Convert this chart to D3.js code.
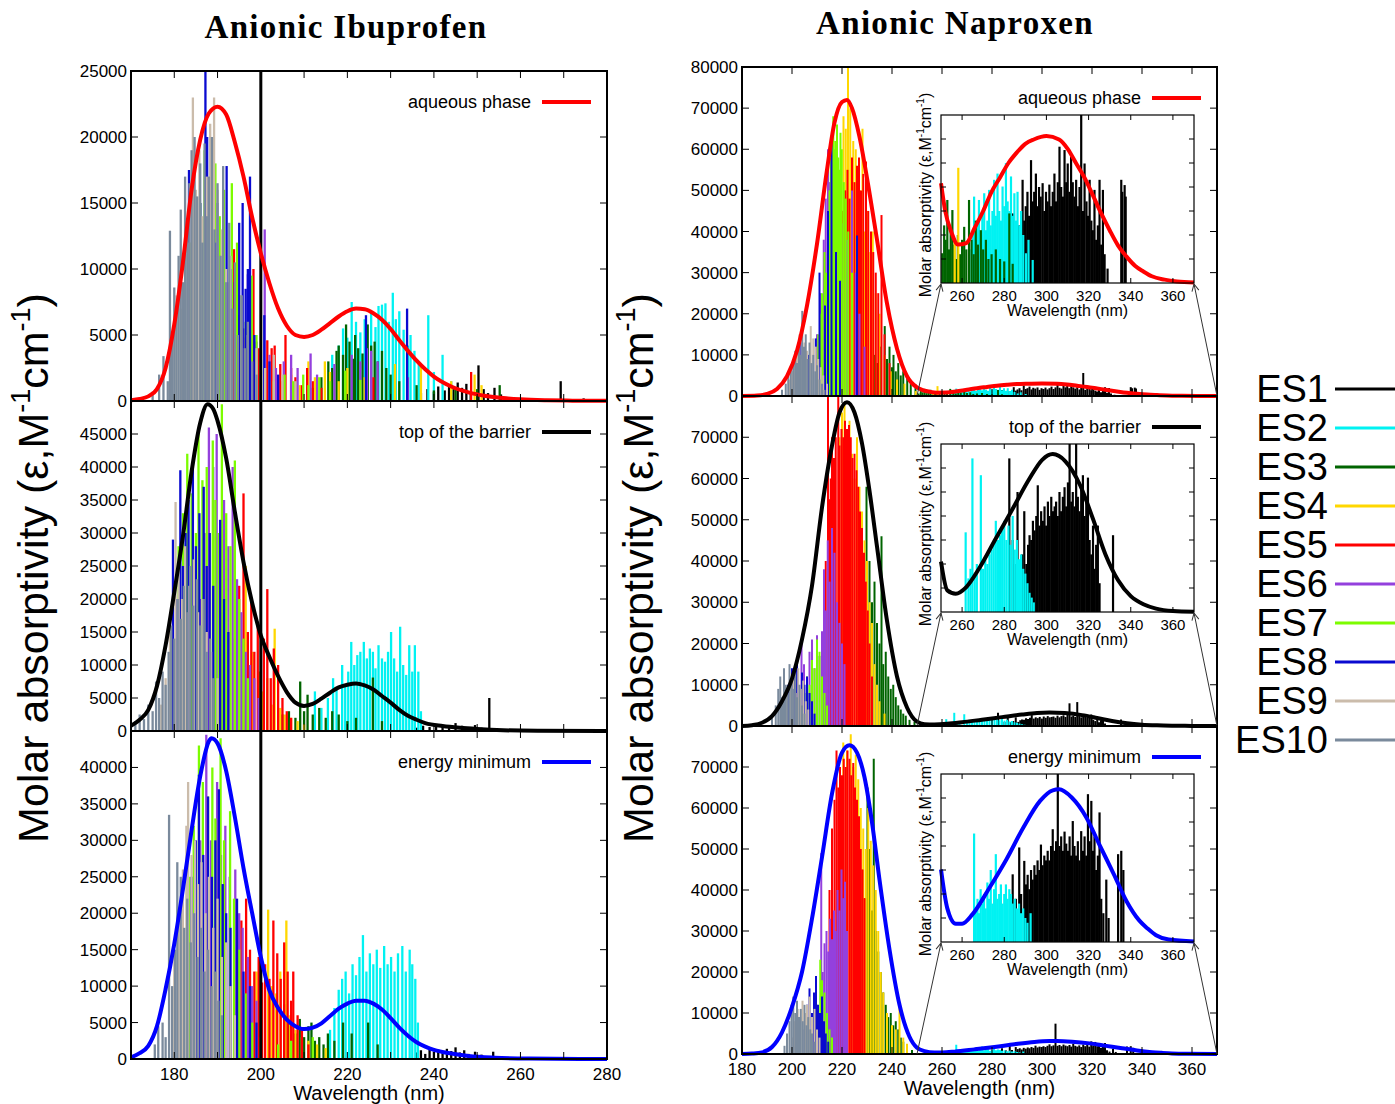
<!DOCTYPE html>
<html>
<head>
<meta charset="utf-8">
<script src="https://cdn.jsdelivr.net/npm/d3@7"></script>
<style>
body { margin: 0; background: #fff; }
svg { display: block; }
text { font-family: "Liberation Sans", Arial, sans-serif; fill: #000; }
</style>
</head>
<body>
<div id="chart"></div>
<script>
const width = 1395
const height = 1104

const esNames = ['ES1', 'ES2', 'ES3', 'ES4', 'ES5', 'ES6', 'ES7', 'ES8', 'ES9', 'ES10']
const esColors = ['#000000', '#00f2f2', '#006400', '#ffd700', '#ff0000', '#9440dd', '#7cfc00', '#0a0ad0', '#cbbcab', '#7a8a9c']
const stateNames = ['aqueous phase', 'top of the barrier', 'energy minimum']
const stateColors = ['#ff0000', '#000000', '#0000ff']

const ibuXTicks = [170, 180, 190, 200, 210, 220, 230, 240, 250, 260, 270, 280]
const ibuXLabels = [180, 200, 220, 240, 260, 280]
const napXTicks = [180, 200, 220, 240, 260, 280, 300, 320, 340, 360]
const insetXTicks = [260, 280, 300, 320, 340, 360]

// broadened spectra (wavelength nm, epsilon)
const ibuAqCurve = [[170,50],[172,150],[174,350],[176,900],[178,2500],[180,5800],[182,10500],[184,16000],[186,19800],[188,21800],[190,22300],[192,21700],[194,19600],[196,17000],[198,13900],[200,11200],[202,8900],[204,7000],[206,5700],[208,5000],[210,4850],[212,5000],[214,5400],[216,5900],[218,6400],[220,6800],[222,7000],[224,6950],[226,6650],[228,6150],[230,5450],[232,4600],[234,3800],[236,3050],[238,2400],[240,1850],[244,1100],[248,650],[252,380],[256,220],[260,130],[266,60],[272,25],[280,10]]
const ibuTsCurve = [[170,800],[172,1700],[174,3200],[176,6800],[178,13000],[180,21000],[182,29500],[184,39300],[186,46700],[187.7,49500],[189,48800],[190,47000],[192,41300],[194,33200],[196,25600],[198,19400],[200,14500],[202,11200],[204,8300],[206,5900],[208,4300],[210,3800],[212,4100],[214,4900],[216,5800],[218,6600],[220,7000],[222,7200],[224,6900],[226,6300],[228,5300],[230,4300],[232,3200],[234,2300],[236,1700],[238,1200],[242,750],[246,480],[250,300],[256,120],[264,40],[280,0]]
const ibuMinCurve = [[170,230],[172,800],[174,1800],[176,4500],[178,9600],[180,15800],[182,23300],[184,31400],[186,38800],[188,43600],[188.6,44000],[190,43300],[192,39500],[194,33200],[196,26200],[198,20000],[200,14000],[202,9400],[204,7000],[206,5400],[208,4500],[210,4100],[212,4300],[214,4900],[216,5900],[218,6900],[220,7600],[222,8000],[224,8000],[226,7600],[228,6800],[230,5600],[232,4300],[234,3200],[236,2300],[238,1700],[240,1250],[244,750],[248,420],[254,180],[262,60],[280,0]]
const napAqCurve = [[180,0],[186,100],[190,500],[194,1700],[198,4800],[202,11000],[206,22000],[210,37000],[214,55000],[217,66500],[220,71500],[222,72000],[224,70000],[227,63000],[230,53000],[234,38000],[238,22500],[242,11500],[246,4800],[250,2080],[252,1500],[255,1050],[258,800],[262,830],[266,1150],[270,1500],[274,1900],[278,2200],[282,2500],[286,2720],[290,2900],[294,2990],[300,3060],[306,2990],[310,2800],[314,2500],[318,2200],[322,1830],[326,1450],[330,1100],[334,780],[338,550],[342,360],[346,240],[350,140],[356,70],[362,30],[370,10]]
const napTsCurve = [[180,0],[184,200],[188,800],[192,2400],[196,6000],[200,11500],[204,21000],[208,34000],[212,53000],[216,68000],[219,76000],[222,78500],[225,76000],[228,68500],[231,57000],[234,43500],[238,25500],[242,12000],[246,4500],[250,1050],[253,450],[257,380],[262,520],[268,900],[276,1530],[284,2150],[292,2780],[298,3170],[303,3290],[309,3140],[316,2640],[322,1950],[328,1200],[334,660],[340,330],[346,160],[352,70],[360,20],[370,5]]
const napMinCurve = [[180,0],[184,100],[188,400],[192,1700],[196,5300],[200,11500],[204,20000],[208,33000],[212,48000],[216,63500],[220,73500],[223,75300],[226,73500],[229,67500],[232,56500],[235,42500],[239,25500],[243,12000],[247,4200],[250,1510],[253,700],[257,380],[260,380],[265,580],[273,1130],[281,1720],[289,2380],[297,2940],[303,3160],[306,3180],[312,3010],[319,2590],[325,2040],[332,1410],[338,850],[344,450],[348,280],[352,140],[358,50],[370,10]]

// stick spectra, one list per excited state ES1..ES10 (wavelength nm, epsilon)
const ibuAqSticks = [
  [[237,600],[238.5,900],[240,700],[241,1100],[242.5,800],[243.5,1200],[244.5,900],[245.5,1400],[246.5,1000],[247.5,1300],[248.5,700],[250.3,2700],[251.5,900],[252.5,600],[254,1000],[255.5,500],[257,300],[269.3,1500],[274.6,200]],
  [[216.5,3500],[218,4200],[219,5500],[220,4800],[221,7500],[222,6000],[223,5200],[224,6200],[225.5,6800],[226.5,5600],[227.2,7200],[228,7300],[228.8,7400],[229.6,6000],[230.5,8200],[231.2,6200],[232,6800],[233,5400],[234,4200],[234.6,5000],[235.5,3800],[236.5,3000],[238.7,6500],[240,2200],[242,3500],[244,1500]],
  [[212,1000],[214,1800],[215.6,3000],[216.5,2500],[217.5,3800],[218,4200],[219,3500],[219.7,5800],[220.5,4500],[221.3,3200],[221.8,5000],[222.5,4000],[223.5,3600],[224.7,5800],[225.5,4200],[226.3,4500],[227,3000],[228,3800],[229,2500],[230,2000],[232,1500],[236,1200],[240,800],[245,1000],[250,900],[255.2,1200]],
  [[205,1500],[207,2000],[209,1200],[211,3000],[212.5,1800],[214.8,3000],[216,2200],[218,1500],[220,2500],[224,1800],[231,2800],[237,2700],[244,1500],[249.4,2000],[251,1200]],
  [[193.8,11500],[195,6500],[196.5,4800],[198.3,10000],[199.5,4000],[201.5,4600],[202.5,4000],[203.2,4200],[204.5,2800],[205.7,5000],[207,2500],[208,1800],[209.5,1200],[210.7,2500],[212,1500],[214,1000],[226,1800],[248.6,2200]],
  [[190.5,8500],[192.5,9000],[194.5,6500],[196,5500],[197,9600],[199,4500],[200.9,13000],[202,3500],[203.5,2500],[205.3,3000],[207,3500],[208.5,2500],[211.5,3600],[213,2000],[217,2800],[221,3500],[223,3000],[224.5,4000],[225.5,3800],[227,3000],[234,1800]],
  [[184,12000],[186,15000],[187,19000],[188.4,20000],[189.5,18000],[190.5,14000],[191.5,16000],[193.3,16500],[194.5,12000],[195.5,8000],[196.5,6000],[197.9,9500],[199,5000],[200,3000],[203,1500],[205.5,2000],[207.5,1500],[209.8,2000],[211,1200],[213.5,1800],[216,1500],[219.5,2300],[223,1600]],
  [[183.4,17500],[185,13000],[186,15000],[187.2,25000],[187.6,20000],[188.5,14000],[189.5,12000],[190,15000],[191,11000],[192.1,17800],[193,10000],[194,9000],[195,13500],[195.8,15000],[196.5,8500],[197,10000],[197.5,17000],[198.5,5000],[200.8,6500],[202,3000],[204,2000],[224.3,6500],[233.8,7000]],
  [[179.5,5000],[180.5,8000],[181.5,7000],[182.5,9000],[183.5,12000],[184.3,23000],[185,16000],[185.8,19000],[186.5,14000],[187.5,17000],[188.3,21000],[189.2,23000],[190,16000],[191,13000],[192,10000],[193,11000],[194,7000],[195.5,8000],[197,5000],[199,4000],[201,2500],[203,3500],[205,2000],[208,1500]],
  [[175,700],[176.5,2000],[177.5,3400],[178.5,1500],[179,12900],[179.5,5000],[180,8600],[180.5,6500],[181,11000],[181.5,14500],[182,9000],[182.5,17000],[183,13000],[183.5,16500],[184,19000],[184.7,20000],[185.3,15500],[186,18000],[186.5,12000],[187,19500],[187.5,14000],[188,17000],[188.7,20000],[189.3,13000],[190,16500],[190.7,11000],[191.3,17800],[192,9000],[192.7,13500],[193.3,7000],[194,10500],[194.7,5000],[195.5,8000],[196.3,4000],[197,6000],[198,3000],[199,2000],[200,1200]]
]
const ibuTsSticks = [
  [[236,500],[237.5,800],[239,600],[240.5,1000],[242,700],[243.5,900],[245,1200],[246.5,800],[248,600],[249.5,900],[251,500],[252.8,5000],[255,300]],
  [[212.5,6000],[214,3500],[215.5,5000],[216.7,8000],[217.5,6500],[218.8,10000],[219.5,7000],[220.2,9000],[220.9,13500],[221.6,10000],[222.3,11500],[223,12000],[223.8,13500],[224.5,11000],[225.2,12500],[225.9,12000],[226.5,9500],[227.2,13000],[228,11000],[228.7,10500],[229.4,12000],[230.1,15000],[230.8,11000],[231.5,9000],[232.2,15800],[232.9,10000],[233.6,8500],[234.3,13000],[235,9000],[235.6,13000],[236.4,9000],[237,3000]],
  [[205,2500],[206.5,3000],[208,2000],[209.1,7500],[210,3000],[210.8,5500],[212,2500],[213.5,3500],[215,2000],[216.5,3000],[218,2500],[220,1500],[222,2000],[225.9,8100],[228,1500]],
  [[196.5,25000],[198,12000],[199.5,9000],[200.5,6000],[201.5,8000],[202.5,4000],[203.2,15500],[204.5,3500],[205.5,2500],[207,2000],[208.5,1500],[210,1000]],
  [[194,14000],[195,22000],[196,36000],[197,15000],[197.8,20000],[198.5,12000],[199.3,16000],[200,9000],[200.7,14000],[201.5,21500],[202.3,8000],[203,12500],[204,10000],[205,5000],[206,3000],[207,2000]],
  [[186,20000],[187,30000],[188,46000],[189,40000],[189.8,45000],[190.5,25000],[191.5,35000],[192.5,28000],[193.5,40000],[194.5,23000],[195.5,18000],[196.5,12000],[197.5,10000],[198.5,8000],[199.5,5000]],
  [[181,28000],[182,33000],[183,42000],[184,36000],[185,30000],[185.6,45000],[186.5,38000],[187.5,40000],[188.9,44000],[189.5,35000],[190.3,30000],[191,49500],[192,33000],[193,28000],[194,41000],[195,20000],[196,14000],[197,8000]],
  [[179.7,29000],[180.5,20000],[181.4,39500],[182,25000],[182.6,30000],[183.3,35000],[184.3,40000],[185,28000],[185.8,33000],[186.8,37000],[187.5,25000],[188.2,30000],[189,22000],[190.6,32000],[191.5,20000],[192.5,15000]],
  [[177,4000],[178,8000],[179,15000],[180.3,34700],[181,25000],[181.8,20000],[182.5,28000],[183.5,22000],[184.5,26000],[185.5,18000],[186.5,20000],[187.5,15000],[188.5,12000],[190,8000]],
  [[171,1500],[172,2500],[173,1800],[174,4000],[175,3000],[175.8,7500],[176.5,5000],[177.3,9000],[178,7000],[178.7,12000],[179.3,16000],[180,14000],[180.8,20000],[181.5,17000],[182.2,22000],[183,18000],[183.7,25000],[184.4,19000],[185.2,23000],[186,16000],[186.8,20000],[187.5,12000],[188.3,14000],[189,8000]]
]
const ibuMinSticks = [
  [[236,900],[237,1200],[238,700],[239,1500],[240,1000],[241,1300],[242,800],[243,1400],[244,1100],[245,1600],[246,900],[247,1200],[248,700],[249.5,1000],[251,600],[253.7,1000],[256,200]],
  [[216,4000],[217,7000],[218,9500],[218.8,11000],[219.6,12000],[220.4,9000],[221.2,13000],[222,11500],[222.8,14000],[223.6,17000],[224.4,12000],[225.2,14500],[226,13000],[226.8,15000],[227.6,12500],[228.5,15500],[229.3,13000],[230.1,14000],[230.9,12000],[231.7,14500],[232.7,15500],[233.5,12000],[234.4,15000],[235,13000],[235.7,11000],[236.3,5000]],
  [[205.4,7500],[206.5,5000],[208,3500],[209,5500],[210,3000],[211,4500],[211.7,5000],[212.5,2500],[213.5,3000],[214.5,2000],[215.5,3500],[217,2500],[219,5000],[221,3500],[224.8,5000],[227,2000]],
  [[199,12000],[200,8000],[201.7,20500],[202.5,10000],[203.5,9000],[204.5,12000],[205.9,19000],[206.8,6000],[208,4000],[209.5,3000],[211,2500],[213,2000],[215,1500]],
  [[194.5,16000],[195.5,19000],[196.6,22000],[197.5,15000],[198.5,12000],[199.5,14000],[200.3,10500],[201,13000],[202,11000],[202.9,19000],[203.8,14500],[204.6,11000],[205.4,16000],[206.2,12000],[207,8000],[207.5,12000],[208.5,6000],[209.5,4000],[211,2000]],
  [[186,30000],[187.4,44500],[188.5,30000],[189.9,38000],[190.8,28000],[191.8,32000],[192.8,25000],[194.1,26000],[195,20000],[195.8,18000],[197,14000],[198,10000],[199,8000]],
  [[183.5,25000],[184.5,32000],[185.7,43000],[186.6,38000],[187.8,36000],[188.8,40000],[189.5,33000],[190.7,44000],[191.5,30000],[192.9,34000],[193.8,22000],[195,15000],[196.5,9000],[198,5000],[200,3000],[204,2000],[207,2500],[212,3000]],
  [[184,25000],[185,30000],[185.7,39000],[186.7,28000],[187.8,36000],[188.7,25000],[189.5,30000],[190.3,37000],[191.2,24000],[192,20000],[193,18000],[194.5,22000],[196,12000],[197.5,10000],[199,5000]],
  [[180,15000],[181,20000],[182,26000],[182.8,32000],[183.2,38000],[184,28000],[184.8,30000],[185.5,24000],[186.3,27000],[187.2,20000],[188,25000],[189,18000],[190,22000],[191,14000],[192,16000],[193,10000],[194,6000]],
  [[175.5,2000],[176.3,4500],[177.3,5000],[178,3000],[178.8,33500],[179.5,10000],[180.2,15000],[180.7,27000],[181.5,25000],[182.3,18000],[183,22000],[183.8,16000],[184.6,20000],[185.4,14000],[186.2,18000],[187,12000],[187.8,15000],[188.6,10000],[189.4,12000],[190.2,8000],[191,6000]]
]
const napAqSticks = [
  [[284,1450],[285.5,800],[287,1200],[288,1000],[288.7,2150],[289.5,1300],[290.2,1600],[291,1900],[291.8,1400],[292.7,2560],[293.5,1700],[294.2,1900],[295,2280],[295.8,1600],[296.5,2000],[297.3,1800],[298.2,2080],[299,1500],[299.8,1900],[300.6,1700],[301.4,2050],[302.2,1600],[303,1900],[303.8,2280],[304.6,1700],[305.4,2100],[306.2,2840],[307,2000],[307.8,1800],[308.6,2770],[309.4,2100],[310.1,2490],[310.9,1900],[311.7,2630],[312.5,2100],[313.3,1800],[314.1,2150],[315,1600],[315.7,2000],[316.5,5600],[317.3,1500],[318.1,2490],[319,1700],[319.7,1400],[320.5,2150],[321.3,1300],[322,1100],[322.8,1940],[323.6,900],[324.4,1200],[325.2,2150],[326,800],[326.8,1940],[327.6,600],[329,300],[335.5,2150],[336,1900],[337.1,2040],[337.6,1800]],
  [[263.5,700],[265,1000],[265.7,1800],[266.5,900],[267.3,1200],[268,1730],[268.8,1000],[269.6,1400],[270.5,1870],[271.3,1100],[272,1300],[272.8,1940],[273.6,1200],[274.4,1500],[275.2,2150],[276,1400],[276.8,2280],[277.6,1500],[278.4,1300],[279.2,2010],[280,1600],[280.8,2500],[281.6,1700],[282.4,1500],[283.2,2220],[284,1400],[284.8,1870],[285.6,1300],[286.3,1900],[287.2,1200],[288,1500],[289,1000],[290.3,620],[291.5,900],[293.5,480]],
  [[233,10000],[234,8000],[235.5,12000],[237.1,17000],[238,9000],[239,12000],[240,7000],[240.6,10000],[241.5,6000],[242.5,8000],[243.5,5000],[244.5,6000],[246.1,5000],[247.5,3000],[249.4,2800],[250.6,620],[251.5,1200],[252.2,900],[253,1730],[253.8,700],[254.6,1100],[255.4,1520],[256.3,800],[257.2,500],[258,1000],[259,600],[260,900],[261,1170],[262,700],[263.3,1730],[264.5,900],[265.5,600],[266.5,1300],[267.5,800],[268.9,1100],[270,700],[271.3,900],[272.5,500],[274,600],[276,700],[278,500],[280,450],[282.4,1450],[284,400]],
  [[220.6,68000],[221.5,65000],[222.4,80000],[223.3,70000],[224.5,62000],[225.5,60000],[226.5,55000],[227.3,50000],[228.2,65000],[229.2,40000],[230.2,45000],[231.3,35000],[232.3,40000],[233.5,25000],[235,20000],[237,10000],[239.5,6000],[242,4000],[245,3000],[249.5,1200],[256.5,900],[258.2,2400]],
  [[219,35000],[220.2,45000],[221.3,50000],[222.2,55000],[223,48000],[224,58000],[225,52000],[226,56000],[226.8,58000],[227.6,50000],[228.5,54000],[229.6,57000],[230.5,45000],[231.6,40000],[232.5,35000],[233.5,30000],[234.5,25000],[235.8,44000],[237,15000],[239,8000]],
  [[210,15000],[211.5,25000],[212.7,38000],[213.5,48000],[214.4,60000],[215,52000],[216,45000],[217.9,55000],[219,48000],[220.5,42000],[222,38000],[224,50000],[225.5,30000],[227,20000],[229,12000]],
  [[210.5,15000],[211.3,20000],[212,25000],[213,35000],[213.7,30000],[214.4,40000],[215,50000],[215.5,58000],[216,62000],[216.5,68000],[217,60000],[217.3,62000],[218,66000],[218.5,58000],[218.8,55000],[219.4,64000],[219.9,60000],[220.7,52000],[221.5,48000],[222.5,40000],[224,30000]],
  [[203.4,13000],[206.5,10000],[209.5,14000],[211,30000],[213.2,22000],[214.4,45000],[215.8,62000],[217.6,35000],[219.2,28000],[226,39000]],
  [[199,4000],[200,6000],[201,9000],[202,12000],[203,15000],[204,9000],[205,13000],[206,11000],[207.5,17000],[208.5,14000],[209.5,12000],[210.5,9000],[211.5,7000],[212.5,5000],[214,3000]],
  [[196,1500],[197.5,3000],[198.5,5000],[199.5,7000],[200.5,9000],[201.3,11000],[202,8000],[202.8,13000],[203.5,10000],[204.1,20700],[204.8,12000],[205.5,15000],[206.2,9000],[207,13000],[207.8,8000],[208.5,10000],[209.3,6000],[210,7500],[211,4000],[212,3000],[213,1500]]
]
const napTsSticks = [
  [[282.4,3200],[284,1500],[285,1000],[286.3,2500],[287.5,900],[288.5,1200],[289.5,2100],[290.5,1000],[291.3,1400],[292,1600],[292.8,1500],[293.6,1900],[294.4,1700],[295.2,2000],[295.9,2640],[296.7,1800],[297.5,2100],[298.3,1900],[299.1,2200],[299.9,1800],[300.7,2300],[301.5,2000],[302.3,2400],[303.1,2100],[303.9,2200],[304.6,2300],[305.4,2000],[306.2,2500],[307,2100],[307.8,2400],[308.6,2600],[309.4,2200],[310.2,2700],[311,5500],[311.8,2300],[312.5,2500],[313.3,2200],[314.1,5800],[314.9,2400],[315.7,2100],[316.5,2600],[317.3,2850],[318.1,2000],[318.9,2300],[319.7,2800],[320.5,1500],[321.3,1200],[322.1,1800],[322.8,900],[323.6,1400],[324.4,1800],[325.2,600],[331.6,1600]],
  [[261.7,1660],[263,700],[264,900],[264.9,3200],[266,800],[267,1000],[268.9,2850],[270,900],[271,1100],[272,1000],[273,1200],[274,1300],[275,1400],[276,1900],[277,1500],[278,1600],[279,1700],[280,1900],[281,1500],[282,1800],[283,1400],[284,2000],[285,1300],[286,1500],[287,1100],[288,1200],[289,900],[290,800],[291,600],[292,400],[293,300],[294,200]],
  [[229,30000],[229.8,58000],[231,40000],[232,30000],[233,35000],[234,25000],[235,20000],[235.8,46000],[236.5,15000],[237.5,18000],[238.5,12000],[239.5,9000],[240.5,10000],[241.5,7000],[242.5,5000],[243.5,4000],[244.5,3000],[245.5,2500],[247,1500],[249,1000]],
  [[219,70000],[220,76000],[221,78000],[221.8,72000],[223,74000],[224,66000],[225,60000],[226,70000],[227,58000],[228,52000],[229,45000],[230,40000],[231,30000],[232,25000],[233,15000],[234,10000],[235,6000],[237,3000]],
  [[213.5,40000],[214.4,80000],[214.8,55000],[215.5,60000],[216,70000],[216.8,65000],[217.5,70000],[218.5,80000],[219,68000],[219.8,72000],[220.5,70000],[221.2,74000],[222,72000],[222.8,73000],[223.5,70000],[224.2,65000],[225,66000],[225.8,62000],[226.5,58000],[227.2,52000],[228,48000],[228.8,42000],[229.5,35000],[230.3,28000],[231,20000],[232,12000]],
  [[202.5,5000],[203.8,20000],[204.8,15000],[206,10000],[207,18000],[208,21000],[209,14000],[210,22000],[211,17000],[212,23000],[212.8,38000],[213.5,28000],[214.3,45000],[215,35000],[216,48000],[217,42000],[218,30000],[219,25000],[220,20000],[221,15000]],
  [[205,8000],[206,12000],[207,10000],[208,16000],[209,14000],[210,21000],[211,18000],[212,12000],[213,8000],[214,5000]],
  [[198.5,10000],[200,14000],[201,12000],[202,15000],[203,8000],[204,13000],[205,10000],[206,12000],[207,8000],[208,6000],[209,3000]],
  [[196,3000],[197,6000],[198,8000],[199.5,10000],[200.5,12000],[201.5,8000],[202.5,14000],[203.5,9000],[204.5,11000],[205.5,6000],[206.5,4000]],
  [[192,2000],[193.5,5000],[194.5,9000],[195.3,12000],[196,7000],[196.8,14000],[197.5,10000],[198.3,8000],[199,15000],[199.8,11000],[200.5,9000],[201.3,13000],[202,7000],[203,10000],[204,5000],[205,3000]]
]
const napMinSticks = [
  [[284,1410],[285.5,900],[287.1,1970],[288,1000],[289.5,1690],[290.3,1200],[291.1,1400],[291.9,1100],[292.7,1500],[293.5,1300],[294.3,1600],[295,1400],[295.8,1700],[296.6,1500],[297.4,2030],[298.2,1600],[299,1800],[299.8,1700],[300.6,1900],[301.4,1700],[302.2,2000],[303,2350],[303.8,1900],[304.6,2100],[305.4,7400],[306.2,2000],[307,2200],[307.8,1900],[308.6,2300],[309.4,2050],[310.2,1900],[311,2200],[311.7,1800],[312.5,2520],[313.3,2000],[314.1,1800],[314.9,2100],[315.7,1700],[316.5,2310],[317.3,1900],[318.1,2200],[318.9,1800],[319.7,3080],[320.5,2100],[321.3,2940],[322.1,1900],[322.8,2200],[323.6,1500],[324.4,1800],[325.2,2700],[326,900],[327,600],[328.4,1300],[329.5,500],[334,1830],[335.5,1900],[336.5,1500]],
  [[265.7,2260],[266.5,700],[267.3,900],[268,600],[268.8,1100],[269.6,800],[270.4,1000],[271.2,700],[272,1240],[272.8,900],[273.6,1500],[274.4,800],[275.2,1100],[276,1830],[276.8,900],[277.6,1000],[278.4,1200],[279.2,800],[280,1000],[280.8,1200],[281.6,900],[282.4,1100],[283.2,1000],[284,800],[285,900],[286,700],[287,800],[288,600],[289,700],[290,500],[291,400],[292.5,600]],
  [[227,35000],[228,45000],[229,38000],[230.2,65000],[231,50000],[232,35000],[232.7,72000],[233.5,30000],[234.5,25000],[235.5,20000],[236.5,15000],[237.5,12000],[238.5,9000],[239.5,10000],[240.5,7000],[241.5,8000],[242.5,6000],[243.5,4000],[244.5,3000],[246,2000],[248,1000]],
  [[220.5,76000],[222,74000],[223.5,78000],[224.5,70000],[225.5,73000],[226.5,67000],[227.5,60000],[228.5,55000],[229.5,50000],[230.5,60000],[231.5,52000],[232.5,46000],[233.5,40000],[234.5,30000],[235.5,20000],[236.5,15000],[238,10000],[240,7000],[241.5,6000],[243,12000],[244.5,4000],[246,2500]],
  [[215,40000],[216,55000],[217,62000],[217.8,74000],[218.5,65000],[219.2,70000],[220,68000],[220.7,72000],[221.5,70000],[222.2,74000],[223,72000],[223.7,68000],[224.5,71000],[225.2,65000],[226,62000],[226.8,58000],[227.5,50000],[228.2,45000],[229,38000]],
  [[211.7,49000],[212.3,20000],[213,27000],[213.8,30000],[214.5,25000],[215.2,33000],[216,28000],[216.8,35000],[217.5,30000],[218.2,40000],[219,35000],[219.8,45000],[220.5,38000],[221.2,42000],[222,30000]],
  [[209,8000],[210,12000],[211.3,23000],[212,18000],[213,15000],[214,10000],[215,6000],[216,4000]],
  [[205,6000],[206,12000],[207,16000],[208,10000],[208.8,15000],[209.6,19000],[210.4,12000],[211.2,10000],[212,14000],[212.8,8000],[213.5,5000],[214.5,3000]],
  [[200,4000],[201,8000],[202.3,11000],[203.3,9000],[204.2,13000],[205.2,10000],[206,12000],[207,14000],[208,9000],[209,11000],[210,6000],[211,4000]],
  [[197,2000],[198,5000],[199,8000],[199.8,12000],[200.5,14000],[201.3,10000],[202,13000],[202.8,9000],[203.5,11000],[204.3,8000],[205,12000],[205.8,7000],[206.5,9000],[207.3,6000],[208,5000],[209,3000]]
]

const svg = d3.select('#chart').append('svg')
  .attr('width', width)
  .attr('height', height)
  .style('background', '#fff')

const defs = svg.append('defs')
defs.append('marker')
  .attr('id', 'arrowhead')
  .attr('viewBox', '-8 -5 10 10')
  .attr('refX', 0).attr('refY', 0)
  .attr('markerWidth', 10).attr('markerHeight', 10)
  .attr('markerUnits', 'userSpaceOnUse')
  .attr('orient', 'auto')
  .append('path')
  .attr('d', 'M-7,-3.5 L0,0 L-7,3.5')
  .attr('fill', 'none')
  .attr('stroke', '#333')
  .attr('stroke-width', 1)

let clipCount = 0
function addClip (x0, y0, w, h) {
  const id = 'clip' + (clipCount++)
  defs.append('clipPath').attr('id', id)
    .append('rect').attr('x', x0).attr('y', y0).attr('width', w).attr('height', h)
  return `url(#${id})`
}

function flatSticks (sticks) {
  // ES1 first so that higher states are drawn over it
  const out = []
  sticks.forEach((list, i) => list.forEach(d => out.push({ es: i, wl: d[0], eps: d[1] })))
  return out
}

function drawFrame (g, x0, y0, x1, y1, w) {
  g.append('rect')
    .attr('x', x0).attr('y', y0)
    .attr('width', x1 - x0).attr('height', y1 - y0)
    .attr('fill', 'none').attr('stroke', '#000').attr('stroke-width', w)
}

function drawPanel (cfg) {
  const g = svg.append('g')
  const x = d3.scaleLinear().domain(cfg.xDomain).range([cfg.left, cfg.right])
  const y = d3.scaleLinear().domain([0, cfg.yMax]).range([cfg.bottom, cfg.top])

  const stickClip = addClip(cfg.left, cfg.top, cfg.right - cfg.left, cfg.bottom - cfg.top)
  g.append('g').attr('clip-path', stickClip)
    .selectAll('line').data(flatSticks(cfg.sticks)).join('line')
    .attr('x1', d => x(d.wl)).attr('x2', d => x(d.wl))
    .attr('y1', y(0)).attr('y2', d => y(d.eps))
    .attr('stroke', d => esColors[d.es])
    .attr('stroke-width', cfg.stickWidth)

  if (cfg.marker !== undefined) {
    g.append('line')
      .attr('x1', x(cfg.marker)).attr('x2', x(cfg.marker))
      .attr('y1', cfg.top).attr('y2', cfg.bottom)
      .attr('stroke', '#000').attr('stroke-width', 3)
  }

  const curveClip = addClip(cfg.left, cfg.top, cfg.right - cfg.left, cfg.bottom - cfg.top + 3)
  g.append('path')
    .datum(cfg.curve)
    .attr('clip-path', curveClip)
    .attr('d', d3.line().x(d => x(d[0])).y(d => y(d[1])).curve(d3.curveMonotoneX))
    .attr('fill', 'none')
    .attr('stroke', cfg.color)
    .attr('stroke-width', 4)
    .attr('stroke-linejoin', 'round')

  drawFrame(g, cfg.left, cfg.top, cfg.right, cfg.bottom, 2)

  // inward ticks on all four sides
  const tk = 7
  g.append('g').selectAll('path').data(cfg.xTicks).join('path')
    .attr('d', d => `M${x(d)},${cfg.bottom}v${-tk}M${x(d)},${cfg.top}v${tk}`)
    .attr('stroke', '#000').attr('stroke-width', 1)
  const yTicks = d3.range(0, cfg.yMax + 1, cfg.yStep)
  g.append('g').selectAll('path').data(yTicks).join('path')
    .attr('d', d => `M${cfg.left},${y(d)}h${tk}M${cfg.right},${y(d)}h${-tk}`)
    .attr('stroke', '#000').attr('stroke-width', 1)

  g.append('g').selectAll('text').data(yTicks.filter(d => d <= cfg.yLabelMax)).join('text')
    .attr('x', cfg.left - 4).attr('y', d => y(d) + 6)
    .attr('text-anchor', 'end')
    .attr('font-size', 17)
    .text(d => d)

  if (cfg.xLabels) {
    g.append('g').selectAll('text').data(cfg.xLabels).join('text')
      .attr('x', d => x(d)).attr('y', cfg.bottom + 21)
      .attr('text-anchor', 'middle')
      .attr('font-size', 17)
      .text(d => d)
    g.append('text')
      .attr('x', (cfg.left + cfg.right) / 2).attr('y', cfg.bottom + 41)
      .attr('text-anchor', 'middle')
      .attr('font-size', 20)
      .text('Wavelength (nm)')
  }

  // key
  const ky = cfg.top + 31
  g.append('text')
    .attr('x', cfg.right - 76).attr('y', ky + 6)
    .attr('text-anchor', 'end')
    .attr('font-size', 18)
    .text(cfg.label)
  g.append('line')
    .attr('x1', cfg.right - 65).attr('x2', cfg.right - 16)
    .attr('y1', ky).attr('y2', ky)
    .attr('stroke', cfg.color).attr('stroke-width', 4)

  return { x, y }
}

function absorptivityLabel (sel, size) {
  const sup = Math.round(size * 0.62)
  const up = Math.round(size * 0.42)
  sel.append('tspan').text('Molar absorptivity (ε,M')
  sel.append('tspan').attr('font-size', sup).attr('dy', -up).text('-1')
  sel.append('tspan').attr('dy', up).text('cm')
  sel.append('tspan').attr('font-size', sup).attr('dy', -up).text('-1')
  sel.append('tspan').attr('dy', up).text(')')
}

function drawInset (cfg, main) {
  const g = svg.append('g')
  const il = 941, ir = 1194
  const it = cfg.top + 48, ib = cfg.top + 216
  const x = d3.scaleLinear().domain([250, 370]).range([il, ir])
  const y = d3.scaleLinear().domain([0, 3500]).range([ib, it])

  g.append('rect').attr('x', il).attr('y', it).attr('width', ir - il).attr('height', ib - it)
    .attr('fill', '#fff')

  const clip = addClip(il, it, ir - il, ib - it)
  const sticks = flatSticks(cfg.sticks).filter(d => d.wl >= 250 && d.wl <= 370)
  g.append('g').attr('clip-path', clip)
    .selectAll('line').data(sticks).join('line')
    .attr('x1', d => x(d.wl)).attr('x2', d => x(d.wl))
    .attr('y1', y(0)).attr('y2', d => y(d.eps))
    .attr('stroke', d => esColors[d.es])
    .attr('stroke-width', 2.2)

  const curveClip = addClip(il - 3, it, ir - il + 6, ib - it + 3)
  g.append('path')
    .datum(cfg.curve.filter(d => d[0] >= 250))
    .attr('clip-path', curveClip)
    .attr('d', d3.line().x(d => x(d[0])).y(d => y(d[1])).curve(d3.curveMonotoneX))
    .attr('fill', 'none')
    .attr('stroke', cfg.color)
    .attr('stroke-width', 4)

  drawFrame(g, il, it, ir, ib, 1.2)

  const tk = 5
  g.append('g').selectAll('path').data(insetXTicks).join('path')
    .attr('d', d => `M${x(d)},${ib}v${-tk}M${x(d)},${it}v${tk}`)
    .attr('stroke', '#000').attr('stroke-width', 1)
  g.append('g').selectAll('path').data(d3.range(500, 3500, 500)).join('path')
    .attr('d', d => `M${il},${y(d)}h${tk}M${ir},${y(d)}h${-tk}`)
    .attr('stroke', '#000').attr('stroke-width', 1)

  g.append('g').selectAll('text').data(insetXTicks).join('text')
    .attr('x', d => x(d)).attr('y', ib + 18)
    .attr('text-anchor', 'middle')
    .attr('font-size', 15)
    .text(d => d)
  g.append('text')
    .attr('x', (il + ir) / 2).attr('y', ib + 33)
    .attr('text-anchor', 'middle')
    .attr('font-size', 16)
    .text('Wavelength (nm)')
  const yl = g.append('text')
    .attr('transform', `translate(${il - 10},${(it + ib) / 2 - 4}) rotate(-90)`)
    .attr('text-anchor', 'middle')
    .attr('font-size', 16)
  absorptivityLabel(yl, 16)

  // zoom arrows from the main axis to the inset corners
  ;[250, 370].forEach(w => {
    g.append('line')
      .attr('x1', main.x(w)).attr('y1', main.y(0))
      .attr('x2', x(w)).attr('y2', ib + 1)
      .attr('stroke', '#333').attr('stroke-width', 1)
      .attr('marker-end', 'url(#arrowhead)')
  })
}

// left column: ibuprofen
const ibuRows = [
  { top: 71, bottom: 401, yMax: 25000, yLabelMax: 25000, curve: ibuAqCurve, sticks: ibuAqSticks },
  { top: 401, bottom: 731, yMax: 50000, yLabelMax: 45000, curve: ibuTsCurve, sticks: ibuTsSticks },
  { top: 731, bottom: 1059, yMax: 45000, yLabelMax: 40000, curve: ibuMinCurve, sticks: ibuMinSticks }
]
ibuRows.forEach((r, i) => {
  drawPanel(Object.assign({
    xDomain: [170, 280], left: 131, right: 607,
    yStep: 5000, xTicks: ibuXTicks,
    xLabels: i === 2 ? ibuXLabels : null,
    marker: 200, stickWidth: 2.3,
    color: stateColors[i], label: stateNames[i]
  }, r))
})

// right column: naproxen
const napRows = [
  { top: 67, bottom: 396, yLabelMax: 80000, curve: napAqCurve, sticks: napAqSticks },
  { top: 396, bottom: 726, yLabelMax: 70000, curve: napTsCurve, sticks: napTsSticks },
  { top: 726, bottom: 1054, yLabelMax: 70000, curve: napMinCurve, sticks: napMinSticks }
]
napRows.forEach((r, i) => {
  const cfg = Object.assign({
    xDomain: [180, 370], left: 742, right: 1217,
    yMax: 80000, yStep: 10000, xTicks: napXTicks,
    xLabels: i === 2 ? napXTicks : null,
    stickWidth: 2,
    color: stateColors[i], label: stateNames[i]
  }, r)
  const main = drawPanel(cfg)
  drawInset(cfg, main)
})

// titles
svg.append('text')
  .attr('x', 346).attr('y', 38)
  .attr('text-anchor', 'middle')
  .style('font-family', '"Liberation Serif", "DejaVu Serif", serif')
  .attr('font-weight', 'bold')
  .attr('font-size', 33)
  .attr('letter-spacing', 1.3)
  .text('Anionic Ibuprofen')
svg.append('text')
  .attr('x', 955).attr('y', 34)
  .attr('text-anchor', 'middle')
  .style('font-family', '"Liberation Serif", "DejaVu Serif", serif')
  .attr('font-weight', 'bold')
  .attr('font-size', 33)
  .attr('letter-spacing', 1.3)
  .text('Anionic Naproxen')

// shared y labels
;[[48, 568], [653, 568]].forEach(p => {
  const t = svg.append('text')
    .attr('transform', `translate(${p[0]},${p[1]}) rotate(-90)`)
    .attr('text-anchor', 'middle')
    .attr('font-size', 43)
  absorptivityLabel(t, 43)
})

// state legend
const legend = svg.append('g')
esNames.forEach((name, i) => {
  const ly = 389 + i * 39
  legend.append('text')
    .attr('x', 1328).attr('y', ly + 13)
    .attr('text-anchor', 'end')
    .attr('font-size', 38)
    .text(name)
  legend.append('line')
    .attr('x1', 1335).attr('x2', 1395)
    .attr('y1', ly).attr('y2', ly)
    .attr('stroke', esColors[i]).attr('stroke-width', 3)
})
</script>
</body>
</html>
